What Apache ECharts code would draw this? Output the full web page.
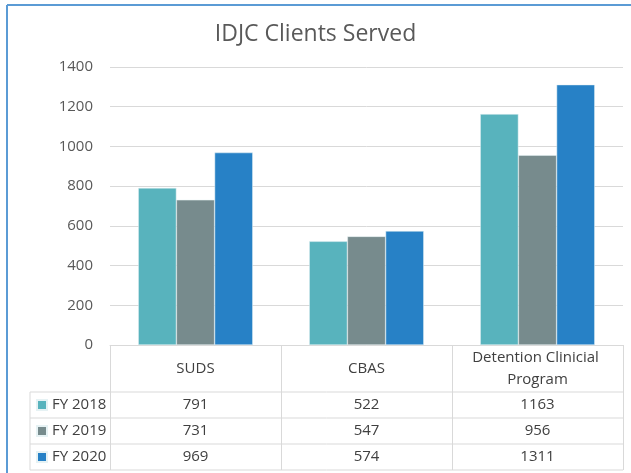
<!DOCTYPE html>
<html>
<head>
<meta charset="utf-8">
<script src="https://cdn.jsdelivr.net/npm/echarts@6/dist/echarts.min.js"></script>
<style>
  html, body { margin: 0; padding: 0; background: #fff; }
  #main { width: 631px; height: 473px; }
</style>
</head>
<body>
<div id="main"></div>
<script>
// 数据
var categories = ['SUDS', 'CBAS', 'Detention Clinicial Program'];
var seriesNames = ['FY 2018', 'FY 2019', 'FY 2020'];
var fy2018 = [791, 522, 1163];
var fy2019 = [731, 547, 956];
var fy2020 = [969, 574, 1311];
var colors = ['#58B3BD', '#778B8D', '#2781C6'];

var chart = echarts.init(document.getElementById('main'));

var GRID_L = 110, GRID_R = 623, GRID_T = 67, GRID_B = 345;
var lineColor = '#d9d9d9';
var fontFam = '"Open Sans", "Noto Sans", sans-serif';

// 表格每一行的值 (用副轴画)
function rowAxis(values, offset) {
	return {
		type: 'category',
		gridIndex: 0,
		position: 'bottom',
		offset: offset,
		data: categories,
		axisLine: { show: false },
		axisTick: { show: false },
		axisLabel: {
			margin: 0,
			verticalAlign: 'middle',
			color: '#404040',
			fontSize: 15,
			fontFamily: fontFam,
			formatter: function (v, i) { return String(values[i]); }
		}
	};
}

// 表格横线
function hLine(x1, x2, y) {
	return { type: 'line', shape: { x1: x1, y1: y, x2: x2, y2: y }, style: { stroke: lineColor, lineWidth: 1 }, silent: true };
}

var option = {
	backgroundColor: '#fff',
	animation: false,
	title: {
		text: 'IDJC Clients Served',
		left: 'center',
		top: 18,
		textStyle: { color: '#595959', fontSize: 23, fontWeight: 'normal', fontFamily: fontFam }
	},
	legend: {
		orient: 'vertical',
		left: 36,
		top: 397,
		padding: 0,
		itemWidth: 10,
		itemHeight: 10,
		itemGap: 10,
		icon: 'rect',
		data: seriesNames,
		textStyle: { color: '#404040', fontSize: 15, lineHeight: 16, fontFamily: fontFam }
	},
	grid: { left: GRID_L, right: 631 - GRID_R, top: GRID_T, bottom: 473 - GRID_B },
	xAxis: [
		{
			type: 'category',
			data: categories,
			axisLine: { show: true, lineStyle: { color: lineColor } },
			axisTick: { show: true, length: 125, lineStyle: { color: lineColor } },
			axisLabel: {
				margin: 24,
				verticalAlign: 'middle',
				color: '#404040',
				fontSize: 15,
				lineHeight: 22,
				fontFamily: fontFam,
				width: 150,
				overflow: 'break',
				interval: 0
			}
		},
		rowAxis(fy2018, 60),
		rowAxis(fy2019, 86),
		rowAxis(fy2020, 112)
	],
	yAxis: {
		type: 'value',
		min: 0,
		max: 1400,
		interval: 200,
		axisLine: { show: false },
		axisTick: { show: false },
		splitLine: { lineStyle: { color: lineColor } },
		axisLabel: {
			margin: 17,
			color: '#595959',
			fontSize: 15,
			fontFamily: fontFam,
			formatter: function (v) { return String(v); }
		}
	},
	series: [
		{ name: seriesNames[0], type: 'bar', data: fy2018, itemStyle: { color: colors[0], borderColor: '#e6f2f4', borderWidth: 0.5 }, barGap: '0%', barCategoryGap: '33%' },
		{ name: seriesNames[1], type: 'bar', data: fy2019, itemStyle: { color: colors[1], borderColor: '#e6f2f4', borderWidth: 0.5 } },
		{ name: seriesNames[2], type: 'bar', data: fy2020, itemStyle: { color: colors[2], borderColor: '#e6f2f4', borderWidth: 0.5 } }
	],
	graphic: [
		// 外框
		{ type: 'line', shape: { x1: 7, y1: 5, x2: 631, y2: 5 }, style: { stroke: '#5B9BD5', lineWidth: 2 }, silent: true },
		{ type: 'line', shape: { x1: 7, y1: 5, x2: 7, y2: 473 }, style: { stroke: '#5B9BD5', lineWidth: 2 }, silent: true },
		// 表格
		hLine(30, GRID_R, 392),
		hLine(30, GRID_R, 418),
		hLine(30, GRID_R, 444),
		hLine(30, GRID_R, 470),
		{ type: 'line', shape: { x1: 30, y1: 392, x2: 30, y2: 470 }, style: { stroke: lineColor, lineWidth: 1 }, silent: true }
	]
};

chart.setOption(option);
</script>
</body>
</html>
